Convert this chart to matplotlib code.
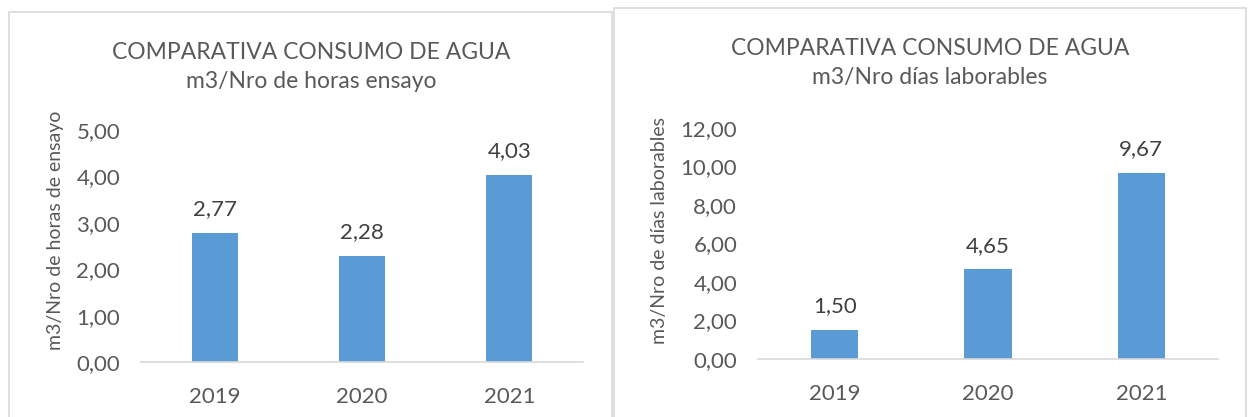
import matplotlib.pyplot as plt
from matplotlib.patches import Rectangle

plt.rcParams['font.family'] = ['Lato', 'DejaVu Sans']

years = ["2019", "2020", "2021"]
horas = [2.77, 2.28, 4.03]
dias = [1.50, 4.65, 9.67]

W, H = 1249, 417
BAR = "#5B9BD5"
GREY = "#595959"
DARK = "#404040"
LINE = "#D9D9D9"

fig = plt.figure(figsize=(W / 100, H / 100), dpi=100)


def px_axes(x0, x1, ytop, ybot):
    return fig.add_axes([x0 / W, 1 - ybot / H, (x1 - x0) / W, (ybot - ytop) / H])


def frame(x0, y0, x1, y1):
    fig.patches.append(Rectangle((x0 / W, 1 - y1 / H), (x1 - x0) / W, (y1 - y0) / H,
                                 transform=fig.transFigure, fill=False,
                                 edgecolor=LINE, linewidth=1.2))


def comma(v):
    return f"{v:.2f}".replace(".", ",")


def draw(ax, vals, ymax, step, ylabel, title, cx, ty, ylx):
    x = range(len(years))
    ax.bar(x, vals, width=0.31, color=BAR)
    ax.set_xlim(-0.5, len(years) - 0.5)
    ax.set_ylim(0, ymax)
    ticks = [i * step for i in range(int(ymax / step) + 1)]
    ax.set_yticks(ticks)
    ax.set_yticklabels([comma(t) for t in ticks])
    ax.set_xticks(list(x))
    ax.set_xticklabels(years)
    ax.tick_params(length=0, labelsize=16, colors=GREY, pad=15)
    ax.tick_params(axis='x', pad=18)
    for s in ["top", "right", "left"]:
        ax.spines[s].set_visible(False)
    ax.spines["bottom"].set_color(LINE)
    ax.spines["bottom"].set_linewidth(1.2)
    for i, v in zip(x, vals):
        ax.annotate(comma(v), (i, v), xytext=(0, 10), textcoords="offset points",
                    ha="center", va="bottom", fontsize=16, color=DARK)
    ax.patch.set_alpha(0)
    fig.text(cx / W, 1 - ty / H, title, ha="center", va="center", fontsize=16.5,
             color=GREY, linespacing=1.5)
    fig.text(ylx / W, 1 - 230 / H, ylabel, rotation=90, ha="center", va="center",
             fontsize=14, color=GREY)


frame(9, 12, 612, 430)
frame(614, 8, 1246, 430)

ax1 = px_axes(141, 583, 130, 362)
draw(ax1, horas, 5, 1, "m3/Nro de horas de ensayo",
     "COMPARATIVA CONSUMO DE AGUA\nm3/Nro de horas ensayo", 311, 67, 56)

ax2 = px_axes(758, 1218, 128, 359)
draw(ax2, dias, 12, 2, "m3/Nro de días laborables",
     "COMPARATIVA CONSUMO DE AGUA\nm3/Nro días laborables", 930, 63, 659)

fig.savefig("out.png", dpi=100)
